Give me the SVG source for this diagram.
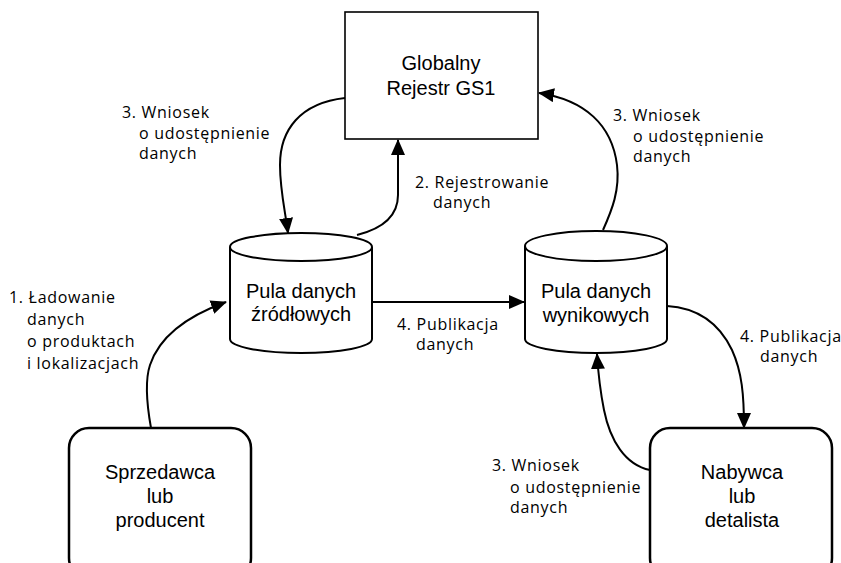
<svg xmlns="http://www.w3.org/2000/svg" width="841" height="563" viewBox="0 0 841 563">
<style>
.node{font-family:"Liberation Sans","Open Sans",Arial,sans-serif;font-size:20px;fill:#000;text-anchor:middle}
.lbl{font-family:"Open Sans","Noto Sans","DejaVu Sans",sans-serif;font-size:16px;fill:#000;letter-spacing:0.7px}
.box{fill:#fff;stroke:#000;stroke-width:1.6}
.rbox{fill:#fff;stroke:#000;stroke-width:2.5}
.cyl{fill:#fff;stroke:#000;stroke-width:2}
.conn path{fill:none;stroke:#000;stroke-width:2;marker-end:url(#arr)}
</style>
<defs>
<marker id="arr" markerUnits="userSpaceOnUse" markerWidth="16" markerHeight="14" viewBox="0 0 16 14" refX="15" refY="7" orient="auto">
<path d="M0,0 L16,7 L0,14 Z" fill="#000"/>
</marker>
</defs>
<rect width="841" height="563" fill="#fff"/>
<g id="globalny">
<rect class="box" x="345" y="12" width="193" height="127"/>
<text class="node" x="441" y="70">Globalny</text>
<text class="node" x="441" y="95">Rejestr GS1</text>
</g>
<g id="pula-zrodlowa">
<path class="cyl" d="M230,247 L230,339 A71,14 0 0 0 372,339 L372,247"/>
<ellipse class="cyl" cx="301" cy="247" rx="71" ry="14"/>
<text class="node" x="301" y="298">Pula danych</text>
<text class="node" x="301" y="321">źródłowych</text>
</g>
<g id="pula-wynikowa">
<path class="cyl" d="M525,246 L525,339 A71,14 0 0 0 667,339 L667,246"/>
<ellipse class="cyl" cx="596" cy="246" rx="71" ry="15"/>
<text class="node" x="596" y="298">Pula danych</text>
<text class="node" x="596" y="322">wynikowych</text>
</g>
<g id="sprzedawca">
<rect class="rbox" x="69" y="428" width="182" height="150" rx="20"/>
<text class="node" x="160" y="479">Sprzedawca</text>
<text class="node" x="160" y="503">lub</text>
<text class="node" x="160" y="527">producent</text>
</g>
<g id="nabywca">
<rect class="rbox" x="650" y="428" width="182" height="150" rx="20"/>
<text class="node" x="742" y="479">Nabywca</text>
<text class="node" x="742" y="503">lub</text>
<text class="node" x="742" y="527">detalista</text>
</g>
<g id="connectors" class="conn">
<path d="M151,428 C146,400 145,380 150,365 C160,335 190,315 226,302"/>
<path d="M357,235 C385,228 398,215 398,195 L398,140"/>
<path d="M345,98 C300,103 280,130 280,165 C280,190 285,210 288,233"/>
<path d="M603,230 C612,210 620,190 617,165 C612,125 585,100 539,93"/>
<path d="M372,302 L524,302"/>
<path d="M667,306 C700,308 720,325 732,350 C742,372 744,395 744,428"/>
<path d="M650,470 C625,465 610,440 604,410 C600,390 598,370 597,354"/>
</g>
<g id="labels">
<text class="lbl" x="122" y="118">3. Wniosek</text>
<text class="lbl" x="139" y="139">o udostępnienie</text>
<text class="lbl" x="139" y="159">danych</text>
<text class="lbl" x="415" y="188">2. Rejestrowanie</text>
<text class="lbl" x="433" y="208">danych</text>
<text class="lbl" x="613" y="121">3. Wniosek</text>
<text class="lbl" x="633" y="142">o udostępnienie</text>
<text class="lbl" x="633" y="162">danych</text>
<text class="lbl" x="9" y="303">1. Ładowanie</text>
<text class="lbl" x="27" y="325">danych</text>
<text class="lbl" x="27" y="347">o produktach</text>
<text class="lbl" x="27" y="369">i lokalizacjach</text>
<text class="lbl" x="397" y="330">4. Publikacja</text>
<text class="lbl" x="416" y="350">danych</text>
<text class="lbl" x="740" y="342">4. Publikacja</text>
<text class="lbl" x="760" y="362">danych</text>
<text class="lbl" x="492" y="471">3. Wniosek</text>
<text class="lbl" x="510" y="493">o udostępnienie</text>
<text class="lbl" x="510" y="513">danych</text>
</g>
</svg>
